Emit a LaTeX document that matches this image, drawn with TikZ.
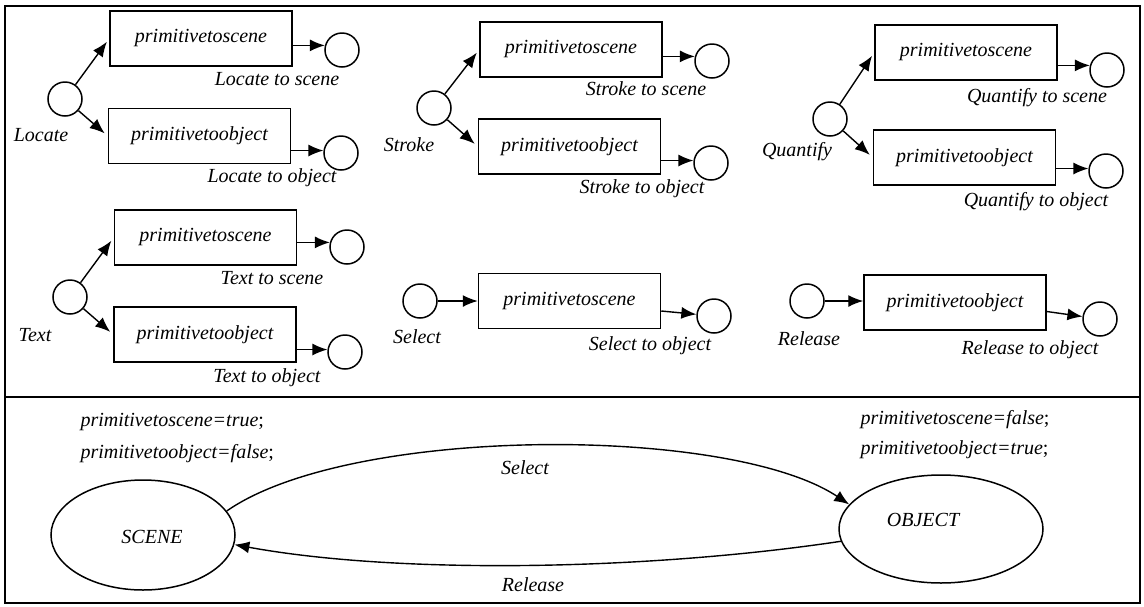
\documentclass[tikz,border=0pt]{standalone}
\usepackage{fontspec}
\setmainfont{Liberation Serif}
\usetikzlibrary{arrows.meta,shapes.geometric}

\tikzset{
  prim/.style={draw, line width=1.5pt, minimum width=182pt, minimum height=55pt, inner sep=0pt},
  dot/.style={draw, circle, line width=1.5pt, minimum size=34pt, inner sep=0pt},
  mode/.style={draw, ellipse, line width=1.5pt, inner sep=0pt},
  flow/.style={line width=1.4pt, -{Latex[length=15pt,width=12pt]}},
}

\begin{document}
\begin{tikzpicture}[x=1pt, y=-1pt, font=\itshape\fontsize{20}{24}\selectfont]
\useasboundingbox (0,0) rectangle (1144,606);
\draw[line width=1.8pt] (5,6) rectangle (1140,603);
\draw[line width=1.8pt] (5,397) -- (1140,397);

% Locate
\node[dot] (locate) at (65,99) {};
\node[prim] (locate_scene) at (201,38.5) {primitivetoscene};
\node[prim] (locate_object) at (199.5,136) {primitivetoobject};
\node[dot] (locate_scene_end) at (342,50) {};
\node[dot] (locate_object_end) at (341,153) {};
\node (locate_lbl) at (41,135) {Locate};
\node (locate_scene_lbl) at (277,79) {Locate to scene};
\node (locate_object_lbl) at (272,178) {Locate to object};
\draw[flow, shorten >=4pt] (locate) -- (locate_scene.west);
\draw[flow, shorten >=4pt] (locate) -- (locate_object.west);
\draw[flow] (locate_scene.east |- locate_scene_end.165) -- (locate_scene_end.165);
\draw[flow] (locate_object.east |- locate_object_end.172) -- (locate_object_end.172);

% Stroke
\node[dot] (stroke) at (434,108) {};
\node[prim] (stroke_scene) at (571,49.5) {primitivetoscene};
\node[prim] (stroke_object) at (569.5,146.5) {primitivetoobject};
\node[dot] (stroke_scene_end) at (712,61) {};
\node[dot] (stroke_object_end) at (711,163) {};
\node (stroke_lbl) at (409,145) {Stroke};
\node (stroke_scene_lbl) at (646,89) {Stroke to scene};
\node (stroke_object_lbl) at (642,189) {Stroke to object};
\draw[flow, shorten >=4pt] (stroke) -- (stroke_scene.west);
\draw[flow, shorten >=4pt] (stroke) -- (stroke_object.west);
\draw[flow] (stroke_scene.east |- stroke_scene_end.165) -- (stroke_scene_end.165);
\draw[flow] (stroke_object.east |- stroke_object_end.172) -- (stroke_object_end.172);

% Quantify
\node[dot] (quantify) at (830,119) {};
\node[prim] (quantify_scene) at (966,52.5) {primitivetoscene};
\node[prim] (quantify_object) at (964.5,157.5) {primitivetoobject};
\node[dot] (quantify_scene_end) at (1107,70) {};
\node[dot] (quantify_object_end) at (1106,171) {};
\node (quantify_lbl) at (797,152) {Quantify};
\node (quantify_scene_lbl) at (1037,98) {Quantify to scene};
\node (quantify_object_lbl) at (1036,202) {Quantify to object};
\draw[flow, shorten >=4pt] (quantify) -- (quantify_scene.west);
\draw[flow, shorten >=4pt] (quantify) -- (quantify_object.west);
\draw[flow] (quantify_scene.east |- quantify_scene_end.165) -- (quantify_scene_end.165);
\draw[flow] (quantify_object.east |- quantify_object_end.172) -- (quantify_object_end.172);

% Text
\node[dot] (text) at (70,297) {};
\node[prim] (text_scene) at (205.5,237.5) {primitivetoscene};
\node[prim] (text_object) at (205,334.5) {primitivetoobject};
\node[dot] (text_scene_end) at (347,247) {};
\node[dot] (text_object_end) at (345,352) {};
\node (text_lbl) at (35,335) {Text};
\node (text_scene_lbl) at (272,278) {Text to scene};
\node (text_object_lbl) at (267,378) {Text to object};
\draw[flow, shorten >=4pt] (text) -- (text_scene.west);
\draw[flow, shorten >=4pt] (text) -- (text_object.west);
\draw[flow] (text_scene.east |- text_scene_end.165) -- (text_scene_end.165);
\draw[flow] (text_object.east |- text_object_end.172) -- (text_object_end.172);

% Select
\node[dot] (select) at (420,301) {};
\node[prim] (select_box) at (569.5,301) {primitivetoscene};
\node[dot] (select_end) at (714,316) {};
\node (select_lbl) at (417,337) {Select};
\node (select_end_lbl) at (650,346) {Select to object};
\draw[flow] (select) -- (select_box);
\draw[flow] ([yshift=-10pt]select_box.east) -- (select_end);

% Release
\node[dot] (release) at (807,301) {};
\node[prim] (release_box) at (955,302.5) {primitivetoobject};
\node[dot] (release_end) at (1100,319) {};
\node (release_lbl) at (809,339) {Release};
\node (release_end_lbl) at (1030,350) {Release to object};
\draw[flow] (release.east) -- (release_box.west |- release.east);
\draw[flow] ([yshift=-9pt]release_box.east) -- (release_end);

% modes
\node[mode, minimum width=184pt, minimum height=110pt,
  label={[xshift=9pt,yshift=-2pt]center:SCENE}] (scene) at (143,535) {};
\node[mode, minimum width=204pt, minimum height=108pt,
  label={[xshift=-18pt,yshift=9pt]center:OBJECT}] (object) at (941,529) {};
\node[anchor=west] (scene_flags1) at (77,422) {primitivetoscene=true\textup{;}};
\node[anchor=west] (scene_flags2) at (77,454) {primitivetoobject=false\textup{;}};
\node[anchor=west] (object_flags1) at (857,420) {primitivetoscene=false\textup{;}};
\node[anchor=west] (object_flags2) at (857,450) {primitivetoobject=true\textup{;}};
\draw[flow] (scene.16) .. controls (350,425) and (730,425) .. (object.165);
\draw[flow] (object.187) .. controls (650,570) and (400,575) .. (scene.354);
\node (select_arc_lbl) at (525,468) {Select};
\node (release_arc_lbl) at (533,585) {Release};
\end{tikzpicture}
\end{document}
